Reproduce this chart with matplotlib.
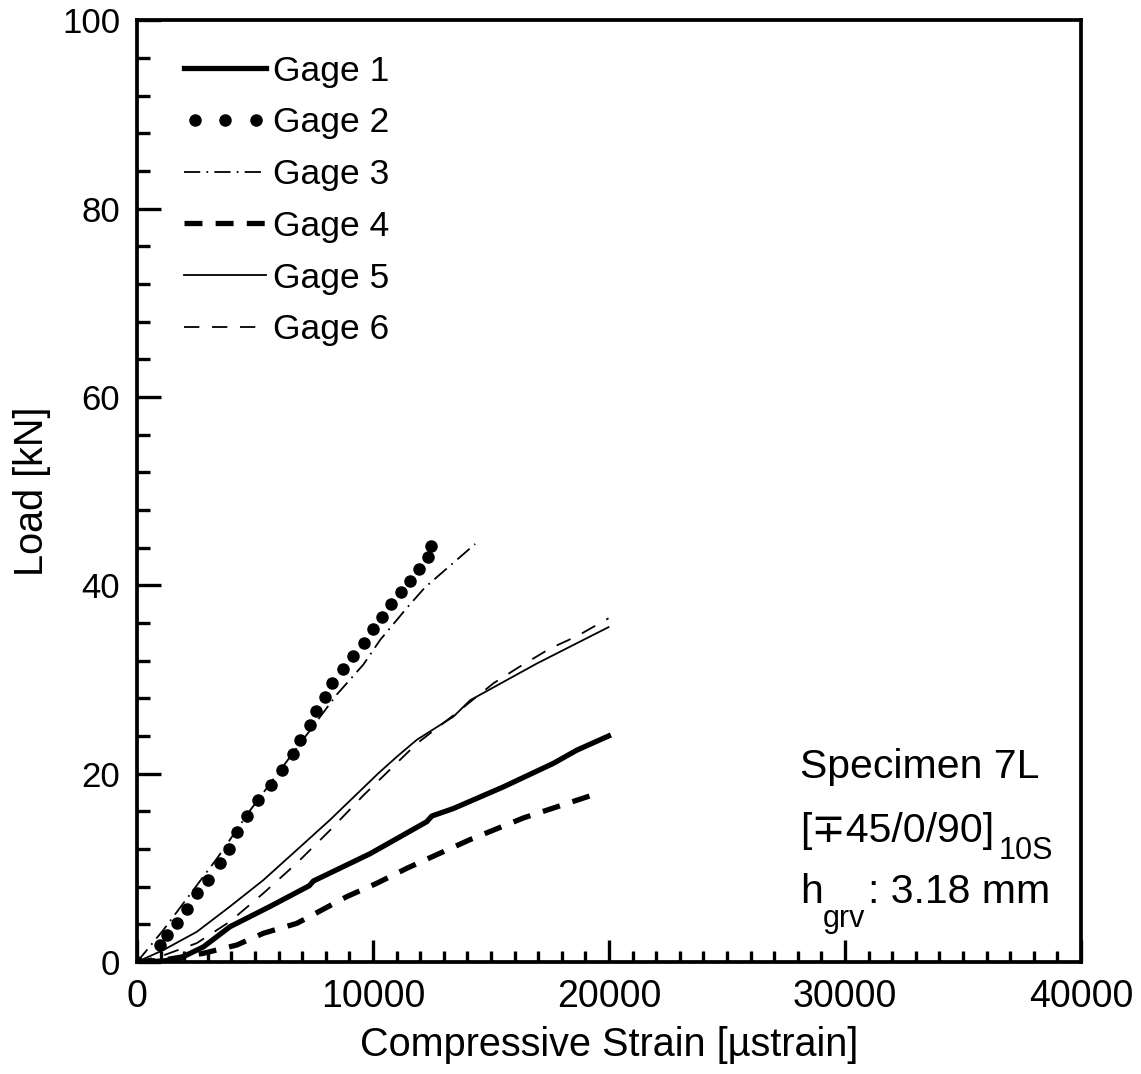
import numpy as np
import matplotlib.pyplot as plt
from matplotlib.legend_handler import HandlerLine2D

# Gage 1 - thick solid
g1_strain = [0, 1116, 1823, 2811, 3942, 5638, 7300, 7474, 9877, 11009, 12280, 12492,
             13409, 15528, 17647, 18639, 19979]
g1_load = [0, 0.1, 0.4, 1.6, 3.75, 5.9, 8.1, 8.6, 11.5, 13.1, 14.9, 15.5,
           16.3, 18.6, 21.1, 22.5, 24.0]

# Gage 2 - dots
g2_strain = [0, 975, 1259, 1683, 2107, 2531, 3022, 3518, 3900, 4252, 4676, 5142,
             5668, 6134, 6626, 6910, 7334, 7600, 7970, 8279, 8745, 9169, 9623,
             10017, 10373, 10755, 11179, 11573, 11967, 12323, 12463]
g2_load = [0, 1.81, 2.87, 4.18, 5.60, 7.30, 8.71, 10.49, 12.0, 13.84, 15.51, 17.21,
           18.80, 20.40, 22.10, 23.58, 25.18, 26.67, 28.19, 29.67, 31.09, 32.51, 33.92,
           35.35, 36.68, 38.03, 39.31, 40.51, 41.72, 42.99, 44.19]

# Gage 3 - thin dash-dot
g3_strain = [0, 1116, 2387, 3447, 4790, 6134, 8464, 9594, 10301, 11433, 12209, 13409, 14328]
g3_load = [0, 3.4, 7.65, 11.2, 16.1, 20.6, 28.4, 31.6, 34.2, 37.6, 39.8, 42.4, 44.4]

# Gage 4 - thick dashed
g4_strain = [0, 1116, 2811, 4226, 5354, 6770, 8889, 10160, 11433, 12704, 14116, 16376, 19627]
g4_load = [0, 0.2, 0.92, 1.8, 3.05, 4.1, 6.94, 8.36, 9.95, 11.4, 13.0, 15.3, 18.0]

# Gage 5 - thin solid
g5_strain = [0, 1116, 2530, 3942, 5354, 6770, 8181, 10230, 11009, 11857, 13409,
             14116, 16943, 19979]
g5_load = [0, 1.27, 3.2, 5.9, 8.7, 11.9, 15.1, 20.05, 21.8, 23.6, 26.06,
           27.8, 31.7, 35.56]

# Gage 6 - thin dashed
g6_strain = [0, 1116, 2530, 3942, 5354, 6770, 8181, 9594, 10500, 11857, 13409,
             15104, 16236, 17507, 18639, 19979]
g6_load = [0, 0.7, 2.0, 4.3, 7.3, 10.5, 14.0, 17.7, 19.9, 23.2, 26.2,
           29.6, 31.4, 33.3, 34.6, 36.5]

plt.rcParams['font.family'] = ['Liberation Sans', 'DejaVu Sans']

fig = plt.figure(figsize=(11.41, 10.74), dpi=100)
ax = fig.add_axes([0.1201, 0.1043, 0.8273, 0.8767])

ax.plot(g1_strain, g1_load, color='k', lw=3.8, label='Gage 1')
dots, = ax.plot(g2_strain, g2_load, 'o', color='k', ms=8, label='Gage 2')
ax.plot(g3_strain, g3_load, color='k', lw=1.3, dashes=(9, 3.4, 1, 3.4), label='Gage 3')
ax.plot(g4_strain, g4_load, color='k', lw=3.8, dashes=(3.4, 2.5), label='Gage 4')
ax.plot(g5_strain, g5_load, color='k', lw=1.3, label='Gage 5')
ax.plot(g6_strain, g6_load, color='k', lw=1.3, dashes=(8.5, 7), label='Gage 6')

ax.set_xlim(0, 40000)
ax.set_ylim(0, 100)
ax.set_xticks(np.arange(0, 40001, 10000))
ax.set_xticks(np.arange(0, 40001, 1000), minor=True)
ax.set_yticks(np.arange(0, 101, 20))
ax.set_yticks(np.arange(0, 101, 4), minor=True)
ax.tick_params(which='both', direction='in', top=False, right=False, width=2.4)
ax.tick_params(axis='x', which='major', length=16, labelsize=27, pad=12)
ax.tick_params(axis='x', which='minor', length=8)
ax.tick_params(axis='y', which='major', length=17, labelsize=25, pad=12)
ax.tick_params(axis='y', which='minor', length=9)
for s in ax.spines.values():
    s.set_linewidth(2.7)

ax.set_xlabel(u'Compressive Strain [\u00b5strain]', fontsize=28.5, labelpad=8)
ax.set_ylabel('Load [kN]', fontsize=28.5, labelpad=8)

ax.legend(loc='upper left', frameon=False, fontsize=25.5, handlelength=2.32,
          handletextpad=0.18, labelspacing=0.53, numpoints=1,
          handler_map={dots: HandlerLine2D(numpoints=3)},
          bbox_to_anchor=(0.035, 0.9788), borderaxespad=0)

# specimen annotation, baselines
x0 = 0.7023
t1 = ax.text(x0, 0.1953, 'Specimen 7L', transform=ax.transAxes, fontsize=29.5,
             va='baseline')
t2 = ax.text(x0, 0.1274, u'[\u221345/0/90]', transform=ax.transAxes, fontsize=29.5,
             va='baseline')
ax.annotate('10S', xy=(1, 0.1274), xycoords=(t2, 'axes fraction'),
            xytext=(3, -12), textcoords='offset points', fontsize=22, va='baseline')
t3 = ax.text(x0, 0.0626, 'h', transform=ax.transAxes, fontsize=29.5, va='baseline')
sub = ax.annotate('grv', xy=(1, 0.0626), xycoords=(t3, 'axes fraction'),
                  xytext=(0, -17), textcoords='offset points', fontsize=22,
                  va='baseline')
ax.annotate(': 3.18 mm', xy=(1, 0.0626), xycoords=(sub, 'axes fraction'),
            xytext=(2, 0), textcoords='offset points', fontsize=29.5, va='baseline')

fig.savefig('out.png', dpi=100)
